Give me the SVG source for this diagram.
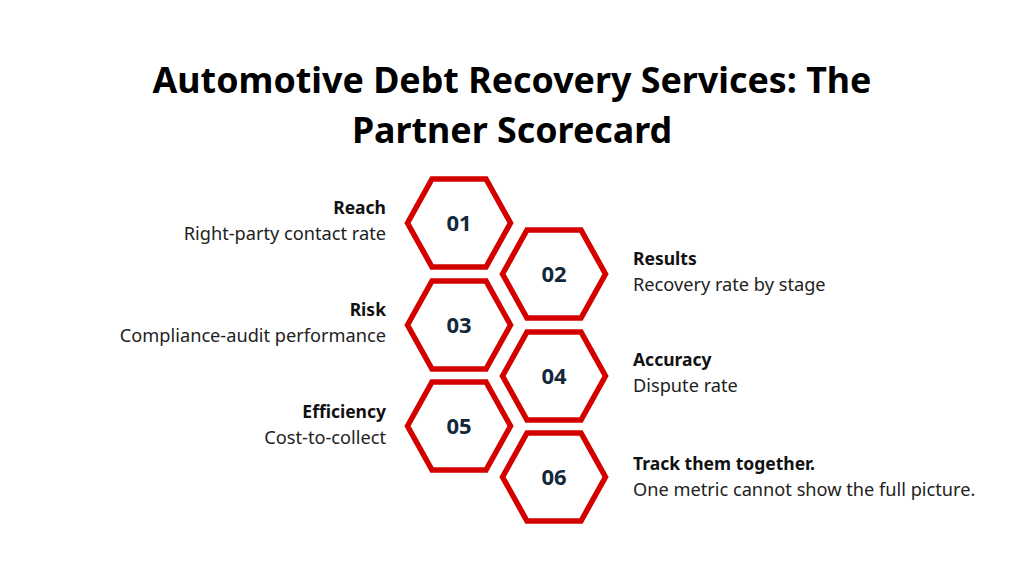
<svg xmlns="http://www.w3.org/2000/svg" width="1012" height="569" viewBox="0 0 1012 569">
<style>
.t{font-family:"Noto Sans","Open Sans",sans-serif;font-weight:700;font-size:35.8px;fill:#000;text-anchor:middle}
.hx{fill:#fff;stroke:#d40000;stroke-width:5.5;stroke-linejoin:miter}
.n{font-family:"Noto Sans",sans-serif;font-weight:700;font-size:22px;fill:#13283a;text-anchor:middle}
.h{font-family:"Noto Sans",sans-serif;font-weight:700;font-size:17.5px;fill:#111}
.d{font-family:"Noto Sans",sans-serif;font-size:18.2px;fill:#222}
.r{text-anchor:end}
</style>
<defs><polygon id="hex" points="-51.5,0 -27,-44 27,-44 51.5,0 27,44 -27,44"/></defs>
<rect width="1012" height="569" fill="#fff"/>
<text class="t" x="512" y="93">Automotive Debt Recovery Services: The</text>
<text class="t" x="512" y="143">Partner Scorecard</text>
<g id="node1"><use href="#hex" class="hx" x="459" y="223"/><text class="n" x="459" y="231">01</text>
<text class="h r" x="386" y="214">Reach</text><text class="d r" x="386" y="240">Right-party contact rate</text></g>
<g id="node2"><use href="#hex" class="hx" x="554" y="274"/><text class="n" x="554" y="282">02</text>
<text class="h" x="633" y="265">Results</text><text class="d" x="633" y="291">Recovery rate by stage</text></g>
<g id="node3"><use href="#hex" class="hx" x="459" y="325"/><text class="n" x="459" y="333">03</text>
<text class="h r" x="386" y="316">Risk</text><text class="d r" x="386" y="342">Compliance-audit performance</text></g>
<g id="node4"><use href="#hex" class="hx" x="554" y="376"/><text class="n" x="554" y="384">04</text>
<text class="h" x="633" y="366">Accuracy</text><text class="d" x="633" y="392">Dispute rate</text></g>
<g id="node5"><use href="#hex" class="hx" x="459" y="426"/><text class="n" x="459" y="434">05</text>
<text class="h r" x="386" y="418">Efficiency</text><text class="d r" x="386" y="444">Cost-to-collect</text></g>
<g id="node6"><use href="#hex" class="hx" x="554" y="477"/><text class="n" x="554" y="485">06</text>
<text class="h" x="633" y="470">Track them together.</text><text class="d" x="633" y="496">One metric cannot show the full picture.</text></g>
<g id="connectors"/>
</svg>
